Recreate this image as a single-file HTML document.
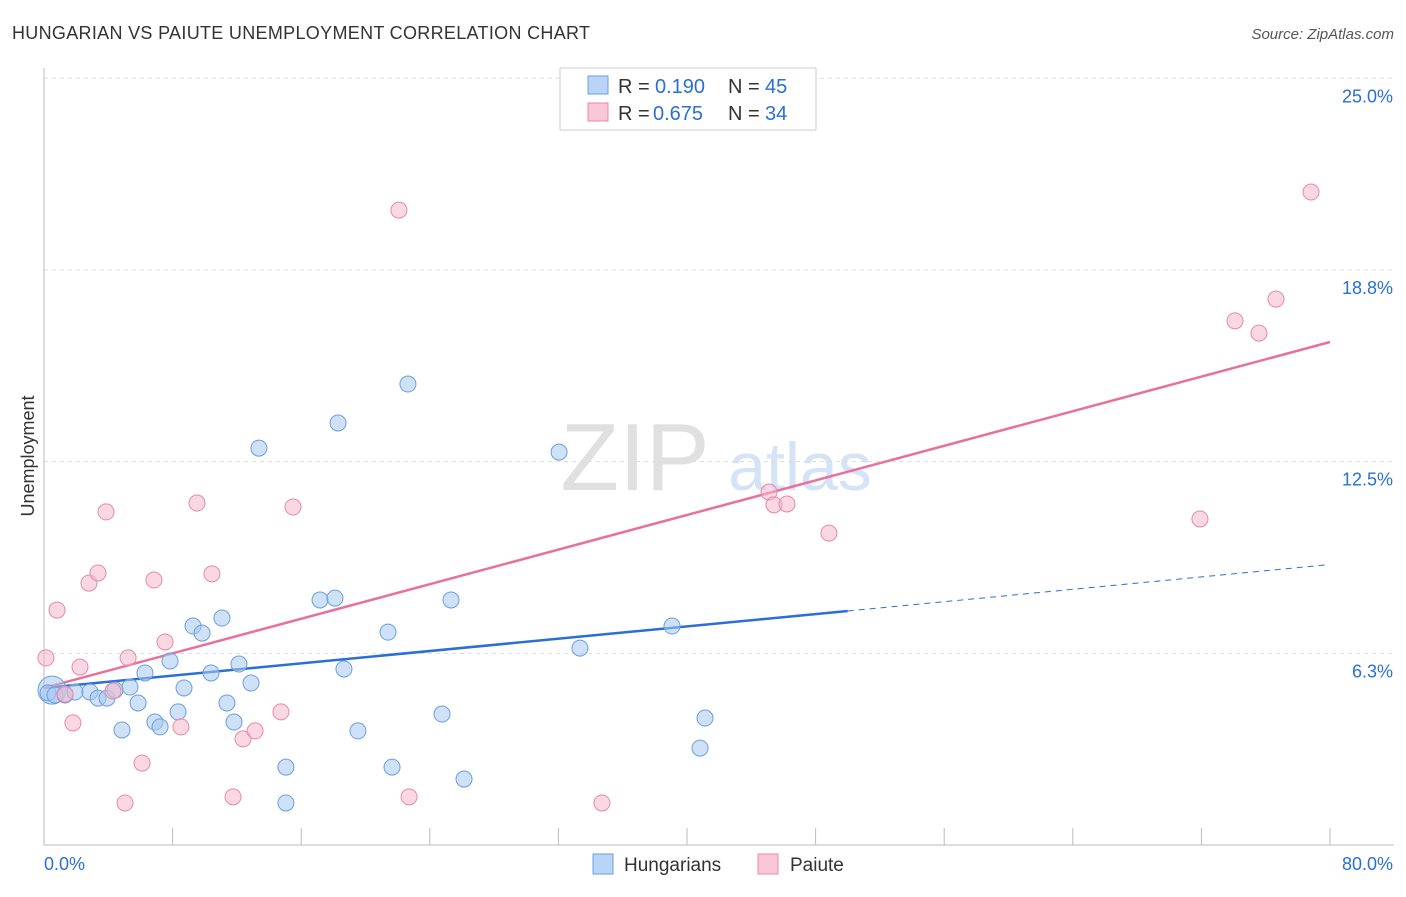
<!DOCTYPE html>
<html><head><meta charset="utf-8"><style>
body{margin:0;background:#fff;font-family:"Liberation Sans",sans-serif;}
svg text{font-family:"Liberation Sans",sans-serif;}
</style></head><body>
<svg id="chart" width="1406" height="892">
<text x="12" y="39" font-size="18" fill="#333" textLength="578">HUNGARIAN VS PAIUTE UNEMPLOYMENT CORRELATION CHART</text>
<text x="1394" y="39" font-size="15" fill="#555" font-style="italic" text-anchor="end">Source: ZipAtlas.com</text>
<text x="34" y="456" font-size="18" fill="#333" transform="rotate(-90 34 456)" text-anchor="middle">Unemployment</text>
<g><text x="635" y="490" font-size="96" fill="#e0e0e0" font-family="Liberation Serif" text-anchor="middle">ZIP</text><text x="800" y="490" font-size="68" fill="#d4e3f5" text-anchor="middle">atlas</text></g>
<g id="grid"></g><g id="axes"></g><g id="lines"></g><g id="pts"></g>
<g>
<rect x="560" y="68" width="256" height="62" fill="#fff" stroke="#ccc"/>
<rect x="588" y="76" width="20" height="18" fill="#b8d4f6" stroke="#6a9fe0"/>
<rect x="588" y="103" width="20" height="18" fill="#f8c6d6" stroke="#e888a8"/>
<text x="618" y="93" font-size="20" fill="#333">R =</text><text x="655" y="93" font-size="20" fill="#2a6fd6">0.190</text>
<text x="728" y="93" font-size="20" fill="#333">N =</text><text x="765" y="93" font-size="20" fill="#2a6fd6">45</text>
<text x="618" y="120" font-size="20" fill="#333">R =</text><text x="653" y="120" font-size="20" fill="#2a6fd6">0.675</text>
<text x="728" y="120" font-size="20" fill="#333">N =</text><text x="765" y="120" font-size="20" fill="#2a6fd6">34</text>
</g>
<g>
<rect x="593" y="854" width="20" height="20" fill="#b8d4f6" stroke="#6a9fe0"/>
<text x="624" y="871" font-size="19" fill="#333">Hungarians</text>
<rect x="758" y="854" width="20" height="20" fill="#f8c6d6" stroke="#e888a8"/>
<text x="790" y="871" font-size="19" fill="#333">Paiute</text>
</g>
</svg>
<script>
const yTicks=[6.25,12.5,18.75,25];
const yTickLabels=["6.3%","12.5%","18.8%","25.0%"];
const xTickCount=10;
const blueX=[0.5,0.25,0.68,1.31,1.93,2.86,3.36,3.92,4.42,4.85,5.35,5.85,6.28,6.9,7.22,7.84,8.34,8.71,9.27,9.83,10.39,11.07,11.38,11.82,12.13,12.88,13.37,15.05,15.05,17.17,18.1,18.29,18.66,19.53,21.4,21.65,22.64,24.76,25.32,26.13,32.04,33.34,39.07,40.81,41.12];
const blueY=[5.05,4.96,4.89,4.89,4.99,4.99,4.79,4.79,5.05,3.75,5.15,4.63,5.61,4.01,3.85,6.0,4.34,5.12,7.14,6.91,5.61,7.4,4.63,4.01,5.9,5.28,12.94,2.54,1.37,7.99,8.05,13.76,5.74,3.72,6.94,2.54,15.03,4.27,7.99,2.15,12.81,6.42,7.14,3.16,4.14];
const pinkX=[0.12,0.81,1.31,1.8,2.24,2.8,3.36,3.86,4.29,5.04,5.23,6.1,6.84,7.53,8.52,9.52,10.45,11.76,12.38,13.13,14.74,15.49,22.08,22.71,34.71,45.1,45.41,46.22,48.83,71.91,74.09,75.58,76.64,78.82];
const pinkY=[6.1,7.66,4.92,3.98,5.8,8.54,8.87,10.86,5.02,1.37,6.1,2.67,8.64,6.62,3.85,11.15,8.84,1.57,3.46,3.72,4.34,11.02,20.7,1.57,1.37,11.51,11.09,11.12,10.17,10.63,17.09,16.69,17.8,21.29];
const blueTrend=[[0,5.12],[50,7.63]];
const blueTrendDash=[[50,7.63],[79.7,9.13]];
const pinkTrend=[[0,5.12],[80,16.4]];
const NS="http://www.w3.org/2000/svg";
const sx=v=>44+v*16.075, sy=v=>845-v*30.67;
function mk(tag,attrs,parent){const e=document.createElementNS(NS,tag);for(const k in attrs)e.setAttribute(k,attrs[k]);document.getElementById(parent).appendChild(e);return e;}
yTicks.forEach((t,i)=>{
 const g=mk('line',{x1:44,x2:1394,y1:sy(t),y2:sy(t),stroke:'#ddd','stroke-dasharray':'4,4'},'grid');
 
 
 const l=mk('text',{x:1393,y:sy(t)+24,'font-size':18,fill:'#2a6fd6','text-anchor':'end'},'grid');l.textContent=yTickLabels[i];
 
 
});
mk('line',{x1:44,x2:44,y1:68,y2:845,stroke:'#bbb'},'axes');
mk('line',{x1:44,x2:1394,y1:845,y2:845,stroke:'#bbb'},'axes');
for(let i=1;i<=xTickCount;i++){const x=sx(i*8);const t=mk('line',{x1:x,x2:x,y1:828,y2:845,stroke:'#bbb'},'axes');
 
 }
let a=mk('text',{x:44,y:870,'font-size':18,fill:'#2a6fd6'},'axes');a.textContent="0.0%";


a=mk('text',{x:1393,y:870,'font-size':18,fill:'#2a6fd6','text-anchor':'end'},'axes');a.textContent="80.0%";


function pts(X,Y,fill,stroke,name){X.forEach((x,i)=>{const c=mk('circle',{cx:sx(x),cy:sy(Y[i]),r:(name==='hungarian-point'&&i===0)?14:8,fill:fill,'fill-opacity':0.55,stroke:stroke,'stroke-width':1},'pts');
 
 });}
pts(blueX,blueY,'#a8c8f0','#6a9fe0','hungarian-point');
pts(pinkX,pinkY,'#f4b8cc','#e888a8','paiute-point');
function ln(p,st,w,d,name){const l=mk('line',{x1:sx(p[0][0]),y1:sy(p[0][1]),x2:sx(p[1][0]),y2:sy(p[1][1]),stroke:st,'stroke-width':w,'stroke-dasharray':d},'lines');
 
 }
ln(blueTrend,'#2a6fd6',2.5,'','hungarian-trendline');
ln(blueTrendDash,'#2a6fd6',1,'6,5','hungarian-trendline-extension');
ln(pinkTrend,'#e8709a',2.5,'','paiute-trendline');
</script>
</body></html>
